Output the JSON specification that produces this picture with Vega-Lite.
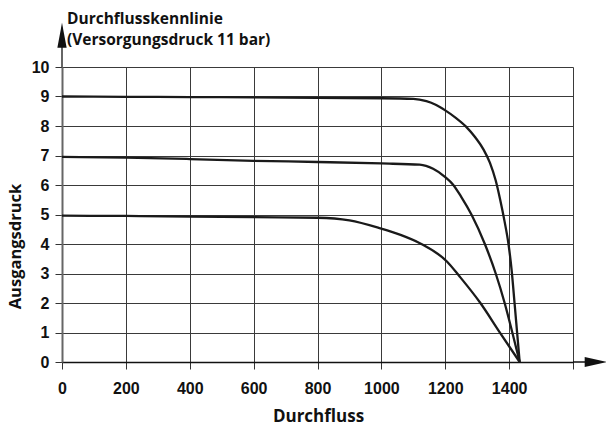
{
  "$schema": "https://vega.github.io/schema/vega-lite/v6.json",
  "autosize": "none",
  "width": 511,
  "height": 295,
  "padding": {"left": 62, "top": 67, "right": 33, "bottom": 65},
  "background": "white",
  "config": {"view": {"stroke": null}},
  "title": {
    "text": ["Durchflusskennlinie", "(Versorgungsdruck 11 bar)"],
    "anchor": "start",
    "frame": "group",
    "dx": 5,
    "dy": 46,
    "offset": 20,
    "font": "Open Sans",
    "fontSize": 15.5,
    "fontWeight": "bold",
    "lineHeight": 21,
    "color": "#111"
  },
  "datasets": {
    "curves": [
      {"series": "9 bar", "flow": 0, "pressure": 9.0},
      {"series": "9 bar", "flow": 200, "pressure": 8.99},
      {"series": "9 bar", "flow": 400, "pressure": 8.98},
      {"series": "9 bar", "flow": 600, "pressure": 8.97},
      {"series": "9 bar", "flow": 800, "pressure": 8.95},
      {"series": "9 bar", "flow": 1000, "pressure": 8.94},
      {"series": "9 bar", "flow": 1100, "pressure": 8.92},
      {"series": "9 bar", "flow": 1141, "pressure": 8.84},
      {"series": "9 bar", "flow": 1170, "pressure": 8.72},
      {"series": "9 bar", "flow": 1200, "pressure": 8.53},
      {"series": "9 bar", "flow": 1235, "pressure": 8.26},
      {"series": "9 bar", "flow": 1265, "pressure": 7.98},
      {"series": "9 bar", "flow": 1295, "pressure": 7.6},
      {"series": "9 bar", "flow": 1320, "pressure": 7.2},
      {"series": "9 bar", "flow": 1340, "pressure": 6.75},
      {"series": "9 bar", "flow": 1358, "pressure": 6.15},
      {"series": "9 bar", "flow": 1372, "pressure": 5.5},
      {"series": "9 bar", "flow": 1386, "pressure": 4.75},
      {"series": "9 bar", "flow": 1398, "pressure": 4.0},
      {"series": "9 bar", "flow": 1408, "pressure": 3.1},
      {"series": "9 bar", "flow": 1417, "pressure": 2.0},
      {"series": "9 bar", "flow": 1425, "pressure": 1.0},
      {"series": "9 bar", "flow": 1433, "pressure": 0},
      {"series": "7 bar", "flow": 0, "pressure": 6.95},
      {"series": "7 bar", "flow": 200, "pressure": 6.93},
      {"series": "7 bar", "flow": 400, "pressure": 6.88},
      {"series": "7 bar", "flow": 600, "pressure": 6.82},
      {"series": "7 bar", "flow": 800, "pressure": 6.78},
      {"series": "7 bar", "flow": 1000, "pressure": 6.73},
      {"series": "7 bar", "flow": 1120, "pressure": 6.69},
      {"series": "7 bar", "flow": 1162, "pressure": 6.55},
      {"series": "7 bar", "flow": 1200, "pressure": 6.27},
      {"series": "7 bar", "flow": 1224, "pressure": 6.02},
      {"series": "7 bar", "flow": 1250, "pressure": 5.6},
      {"series": "7 bar", "flow": 1282, "pressure": 5.0},
      {"series": "7 bar", "flow": 1324, "pressure": 4.0},
      {"series": "7 bar", "flow": 1358, "pressure": 3.0},
      {"series": "7 bar", "flow": 1386, "pressure": 2.0},
      {"series": "7 bar", "flow": 1410, "pressure": 1.0},
      {"series": "7 bar", "flow": 1433, "pressure": 0},
      {"series": "5 bar", "flow": 0, "pressure": 4.96},
      {"series": "5 bar", "flow": 200, "pressure": 4.95},
      {"series": "5 bar", "flow": 400, "pressure": 4.93},
      {"series": "5 bar", "flow": 600, "pressure": 4.91},
      {"series": "5 bar", "flow": 800, "pressure": 4.89},
      {"series": "5 bar", "flow": 900, "pressure": 4.8},
      {"series": "5 bar", "flow": 997, "pressure": 4.53},
      {"series": "5 bar", "flow": 1060, "pressure": 4.31},
      {"series": "5 bar", "flow": 1122, "pressure": 4.02},
      {"series": "5 bar", "flow": 1206, "pressure": 3.4},
      {"series": "5 bar", "flow": 1245, "pressure": 2.9},
      {"series": "5 bar", "flow": 1310, "pressure": 2.0},
      {"series": "5 bar", "flow": 1368, "pressure": 1.05},
      {"series": "5 bar", "flow": 1433, "pressure": 0}
    ],
    "yext": [{"flow": 0, "pressure": 10, "pressure2": 10.9}],
    "xext": [{"flow": 1600, "flow2": 1660, "pressure": 0}],
    "uparrow": [{"flow": 0, "pressure": 11.08}],
    "rightarrow": [{"flow": 1671, "pressure": 0}]
  },
  "encoding": {
    "x": {
      "field": "flow", "type": "quantitative",
      "scale": {"domain": [0, 1600], "nice": false, "zero": false},
      "axis": {
        "values": [0, 200, 400, 600, 800, 1000, 1200, 1400, 1600],
        "labelExpr": "datum.value == 1600 ? '' : datum.label",
        "format": "d",
        "labelOverlap": false,
        "labelFlush": false,
        "title": "Durchfluss",
        "titleFont": "Open Sans", "titleFontSize": 17, "titleFontWeight": "bold", "titleColor": "#111",
        "titleX": 256, "titleY": 54, "titleBaseline": "middle", "titleAlign": "center",
        "labelFont": "Liberation Sans", "labelFontSize": 16, "labelFontWeight": "bold", "labelColor": "#111",
        "labelPadding": 11,
        "tickSize": 7, "tickColor": "#333", "tickWidth": 1,
        "domainColor": "#111", "domainWidth": 1.5,
        "grid": true, "gridColor": "#3a3a3a", "gridWidth": 1
      }
    },
    "y": {
      "field": "pressure", "type": "quantitative",
      "scale": {"domain": [0, 10], "nice": false, "zero": false},
      "axis": {
        "values": [0, 1, 2, 3, 4, 5, 6, 7, 8, 9, 10],
        "format": "d",
        "labelOverlap": false,
        "labelFlush": false,
        "title": "Ausgangsdruck",
        "titleFont": "Open Sans", "titleFontSize": 16.5, "titleFontWeight": "bold", "titleColor": "#111",
        "titleAngle": -90, "titleX": -47, "titleY": 179, "titleBaseline": "middle", "titleAlign": "center",
        "labelFont": "Liberation Sans", "labelFontSize": 16, "labelFontWeight": "bold", "labelColor": "#111",
        "labelPadding": 6,
        "tickSize": 7, "tickColor": "#333", "tickWidth": 1,
        "domainColor": "#666", "domainWidth": 2,
        "grid": true, "gridColor": "#3a3a3a", "gridWidth": 1
      }
    }
  },
  "layer": [
    {
      "data": {"name": "curves"},
      "mark": {"type": "line", "color": "#1a1a1a", "strokeWidth": 2.3, "interpolate": "monotone"},
      "encoding": {"detail": {"field": "series"}}
    },
    {
      "data": {"name": "yext"},
      "mark": {"type": "rule", "color": "#666", "strokeWidth": 2},
      "encoding": {"y2": {"field": "pressure2"}}
    },
    {
      "data": {"name": "xext"},
      "mark": {"type": "rule", "color": "#111", "strokeWidth": 1.5},
      "encoding": {"x2": {"field": "flow2"}}
    },
    {
      "data": {"name": "uparrow"},
      "mark": {"type": "point", "shape": "M0,-1L0.37,1L-0.37,1Z", "size": 625, "filled": true, "color": "#111", "opacity": 1},
      "encoding": {}
    },
    {
      "data": {"name": "rightarrow"},
      "mark": {"type": "point", "shape": "M1,0L-1,-0.45L-1,0.45Z", "size": 484, "filled": true, "color": "#111", "opacity": 1},
      "encoding": {}
    }
  ]
}
